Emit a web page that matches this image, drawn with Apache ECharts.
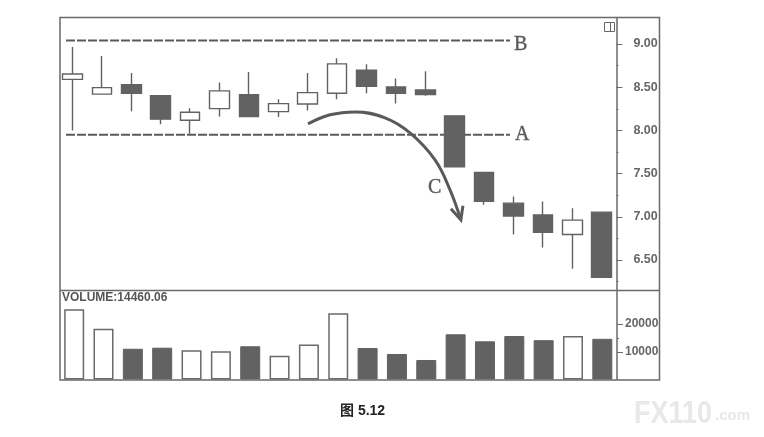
<!DOCTYPE html>
<html><head><meta charset="utf-8">
<style>html,body{margin:0;padding:0;background:#fff}#c{width:764px;height:437px}</style>
<script src="https://cdn.jsdelivr.net/npm/echarts@6/dist/echarts.min.js"></script>
</head><body><div id="c"></div>
<script>
const categories = ['1','2','3','4','5','6','7','8','9','10','11','12','13','14','15','16','17','18','19'];
const opens  = [8.59,8.42,8.53,8.40,8.118,8.252,8.414,8.217,8.306,8.43,8.696,8.503,8.468,8.168,7.512,7.158,7.02,6.795,7.054];
const closes = [8.653,8.495,8.43,8.13,8.21,8.457,8.16,8.31,8.437,8.77,8.51,8.43,8.414,7.58,7.18,7.008,6.82,6.962,6.30];
const lows   = [8.0,8.42,8.22,8.07,7.96,8.16,8.16,8.156,8.23,8.36,8.43,8.31,8.40,7.58,7.14,6.795,6.645,6.40,6.30];
const highs  = [8.965,8.86,8.665,8.40,8.257,8.553,8.676,8.36,8.665,8.835,8.765,8.60,8.684,8.168,7.512,7.235,7.177,7.10,7.054];
const volumes = [25340,18320,11100,11480,10600,10240,12000,8560,12620,23900,11370,9200,7040,16320,13790,15700,14190,15730,14690];
const priceMajor = [6.5,7,7.5,8,8.5,9];
const priceMinor = [6.25,6.75,7.25,7.75,8.25,8.75];
const volumeTicks = [10000,20000];
const volumeMinor = [15000];
const levelB = 9.04, levelA = 7.95;
const levelSpan = [0.28,15.38];
const arcX = [8.51,9.26,10.11,11.13,11.98,12.83,13.34,13.71];
const arcY = [8.075,8.18,8.214,8.145,7.971,7.659,7.312,6.965];
const headX = [13.37,13.71,13.78];
const headY = [7.092,6.965,7.127];
const volumeLabel = 'VOLUME:14460.06';
const caption = '图 5.12';

const GRAY = '#626262', FRAME = '#6a6a6a';
const PMIN = 6.153, PMAX = 9.312, VMAX = 32310;
const zip = (a,b) => a.map((v,i)=>[v,b[i]]);
const lineStyleAnn = {color:'#5a5a5a'};
const txt = {fontFamily:'"Liberation Sans",Arial,sans-serif',fontWeight:'bold',fontSize:12.5,color:'#666'};
const serif = '20px "Liberation Serif",serif';
const annText = {font:serif,fill:'#5a5a5a',stroke:'#5a5a5a',lineWidth:0.4};

const chart = echarts.init(document.getElementById('c'),null,{renderer:'canvas'});
chart.setOption({
  animation:false,
  backgroundColor:'#fff',
  grid:[
    {left:57.8,width:558.6,top:17,height:273,show:false},
    {left:59.5,width:557.5,top:290,height:89.5,show:false}
  ],
  xAxis:[
    {type:'category',gridIndex:0,data:categories,show:false},
    {type:'category',gridIndex:1,data:categories,show:false},
    {type:'value',gridIndex:0,min:0,max:19,show:false}
  ],
  yAxis:[
    {type:'value',gridIndex:0,position:'right',min:PMIN,max:PMAX,scale:true,
     splitLine:{show:false},axisLine:{show:false,onZero:false},
     axisTick:{show:true,length:6,customValues:priceMajor,lineStyle:{color:FRAME,width:1}},
     axisLabel:{show:true,customValues:priceMajor,margin:17,formatter:v=>v.toFixed(2),...txt}},
    {type:'value',gridIndex:0,position:'right',min:PMIN,max:PMAX,scale:true,
     splitLine:{show:false},axisLine:{show:false,onZero:false},
     axisTick:{show:true,length:2,customValues:priceMinor,lineStyle:{color:FRAME,width:1}},
     axisLabel:{show:false}},
    {type:'value',gridIndex:1,position:'right',min:0,max:VMAX,
     splitLine:{show:false},axisLine:{show:false,onZero:false},
     axisTick:{show:true,length:6,customValues:volumeTicks,lineStyle:{color:FRAME,width:1}},
     axisLabel:{show:true,customValues:volumeTicks,margin:8,formatter:v=>String(v),...txt,fontSize:12}},
    {type:'value',gridIndex:1,position:'right',min:0,max:VMAX,
     splitLine:{show:false},axisLine:{show:false,onZero:false},
     axisTick:{show:true,length:2,customValues:volumeMinor,lineStyle:{color:FRAME,width:1}},
     axisLabel:{show:false}}
  ],
  series:[
    {type:'line',name:'B',xAxisIndex:2,yAxisIndex:0,z:1,symbol:'none',silent:true,
     data:levelSpan.map(x=>[x,levelB]),lineStyle:{color:'#5a5a5a',width:2,type:[9,2]}},
    {type:'line',name:'A',xAxisIndex:2,yAxisIndex:0,z:1,symbol:'none',silent:true,
     data:levelSpan.map(x=>[x,levelA]),lineStyle:{color:'#5a5a5a',width:2,type:[9,2]}},
    {type:'candlestick',xAxisIndex:0,yAxisIndex:0,z:3,barWidth:20,
     data:opens.map((o,i)=>[o,closes[i],lows[i],highs[i]]),
     itemStyle:{color:'#fff',color0:GRAY,borderColor:GRAY,borderColor0:GRAY,borderWidth:1.4}},
    {type:'bar',xAxisIndex:1,yAxisIndex:2,z:3,barWidth:20,
     data:volumes.map((v,i)=>({value:v,itemStyle:closes[i]>opens[i]
       ?{color:'#fff',borderColor:FRAME,borderWidth:1.5}
       :{color:GRAY,borderColor:GRAY,borderWidth:1}}))},
    {type:'line',name:'C',xAxisIndex:2,yAxisIndex:0,z:4,symbol:'none',smooth:0.4,silent:true,
     data:zip(arcX,arcY),lineStyle:{...lineStyleAnn,width:3}},
    {type:'line',name:'head',xAxisIndex:2,yAxisIndex:0,z:4,symbol:'none',silent:true,
     data:zip(headX,headY),lineStyle:{...lineStyleAnn,width:3,join:'miter'}}
  ],
  graphic:[
    {type:'rect',z:10,shape:{x:60,y:17.5,width:599.5,height:362.5},style:{fill:'transparent',stroke:FRAME,lineWidth:1.5}},
    {type:'line',z:10,shape:{x1:60,y1:290.5,x2:659.5,y2:290.5},style:{stroke:FRAME,lineWidth:1.5}},
    {type:'line',z:10,shape:{x1:617,y1:17.5,x2:617,y2:380},style:{stroke:FRAME,lineWidth:1.5}},
    {type:'rect',z:10,shape:{x:604.5,y:22.5,width:10,height:9},style:{fill:'#fff',stroke:'#666',lineWidth:1}},
    {type:'line',z:10,shape:{x1:610.5,y1:22.5,x2:610.5,y2:31.5},style:{stroke:'#666',lineWidth:1}},
    {type:'text',z:10,x:514,y:35,style:{text:'B',...annText}},
    {type:'text',z:10,x:515,y:125,style:{text:'A',...annText}},
    {type:'text',z:10,x:428,y:178,style:{text:'C',...annText}},
    {type:'text',z:10,x:62,y:292,style:{text:volumeLabel,font:'bold 12px "Liberation Sans",Arial,sans-serif',fill:'#555'}},
    {type:'text',z:10,x:340,y:404,style:{text:caption,font:'bold 14px "Liberation Sans","Noto Sans CJK SC",sans-serif',fill:'#222'}},
    {type:'text',z:1,x:634,y:399,scaleX:0.87,style:{text:'FX110',font:'bold 31px "Liberation Sans",Arial,sans-serif',fill:'#e8e8e8'}},
    {type:'text',z:1,x:715,y:408,style:{text:'.com',font:'bold 15px "Liberation Sans",Arial,sans-serif',fill:'#e8e8e8'}}
  ]
});
</script></body></html>
